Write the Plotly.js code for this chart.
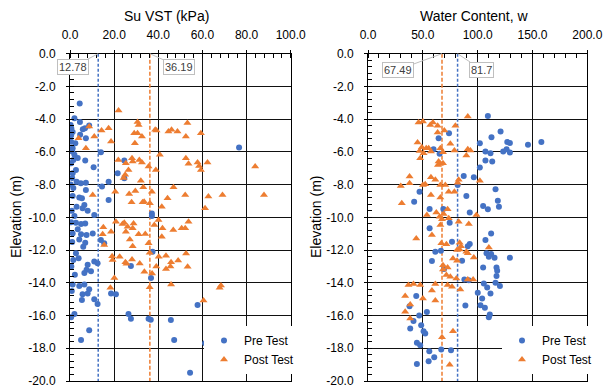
<!DOCTYPE html>
<html>
<head>
<meta charset="utf-8">
<script src="https://cdn.plot.ly/plotly-3.0.1.min.js"></script>
<style>html,body{margin:0;padding:0;background:#fff;}#chart{width:606px;height:387px;}</style>
</head>
<body>
<div id="chart"></div>
<script>
// ---- Left panel: Su VST (kPa) ----
const preSuL = [4.4,2.0,4.5,8.7,0.3,0.6,5.8,6.8,1.2,4.6,0.5,7.2,0.5,2.4,1.2,1.0,14.0,2.0,3.5,6.9,1.5,24.6,10.7,21.6,2.7,1.2,24.6,17.5,3.0,4.9,7.2,14.5,7.2,76.6,1.2,4.2,5.4,17.5,6.5,3.0,5.7,8.0,11.0,2.0,37.1,37.1,2.7,5.0,6.9,3.5,1.2,5.0,7.5,10.3,4.2,6.9,14.0,15.5,6.0,37.4,2.7,3.9,11.0,12.5,8.0,7.5,9.5,6.5,27.6,36.7,1.2,4.2,6.5,8.7,5.7,8.0,5.4,11.0,12.5,18.6,20.8,2.0,0.5,26.5,27.6,35.6,36.6,45.7,57.8,8.7,5.0,47.2,61.2,54.4,0.5,1.0,0.3,1.5,0.8,0.5,1.0,1.5,0.6,2.2,0.8];
const preElL = [-3.05,-3.94,-4.18,-4.38,-4.35,-4.55,-4.62,-4.55,-4.78,-4.95,-5.0,-5.16,-5.38,-5.47,-5.78,-5.98,-6.02,-6.18,-6.38,-6.53,-6.49,-6.53,-6.94,-7.31,-7.1,-7.3,-7.61,-7.82,-7.82,-7.92,-7.88,-8.12,-8.33,-5.73,-8.69,-8.78,-8.84,-8.94,-9.24,-9.35,-9.45,-9.59,-9.86,-9.92,-9.76,-9.92,-10.33,-10.41,-10.37,-10.73,-10.98,-11.04,-11.08,-10.98,-11.35,-11.55,-11.39,-11.59,-11.8,-12.1,-12.2,-12.5,-12.7,-12.8,-12.9,-13.2,-13.3,-13.4,-12.98,-13.7,-14.1,-14.2,-14.1,-14.4,-14.7,-14.65,-15.05,-15.0,-15.3,-14.65,-14.7,-15.9,-16.1,-15.9,-16.2,-16.2,-16.25,-16.27,-15.35,-16.9,-17.5,-17.5,-17.7,-19.5,-6.7,-7.6,-8.0,-8.2,-9.6,-10.3,-11.5,-12.6,-13.0,-13.5,-14.5];
const postSuL = [22.0,30.6,31.1,53.2,8.7,14.3,17.5,38.6,39.2,44.6,46.0,48.7,59.3,29.1,30.6,32.6,11.0,52.5,3.9,18.6,29.4,7.2,40.7,21.9,28.1,28.4,31.4,32.6,25.3,52.5,53.7,57.8,58.5,62.3,59.3,83.9,35.6,26.5,38.9,25.0,24.3,32.1,33.2,46.9,20.5,29.6,37.1,10.3,26.8,52.2,62.7,69.1,87.9,27.9,32.9,33.6,36.2,41.6,44.2,61.2,20.8,23.8,24.6,28.8,26.1,28.4,25.3,15.1,18.6,14.8,31.1,34.1,38.2,40.1,41.9,41.6,46.8,50.6,52.2,53.7,35.6,27.1,28.4,15.5,19.1,19.3,22.5,25.1,25.6,28.1,31.6,33.7,36.1,37.2,39.1,40.2,43.5,43.5,45.5,45.8,49.0,52.6,53.3,20.1,18.3,36.1,45.8,67.8,68.4,60.5];
const postElL = [-3.47,-4.18,-4.35,-4.24,-4.45,-4.69,-4.55,-4.65,-4.69,-4.76,-4.65,-4.76,-4.86,-4.86,-4.86,-5.06,-5.06,-5.06,-5.16,-5.37,-5.47,-5.78,-6.18,-6.49,-6.39,-6.59,-6.49,-6.65,-6.69,-6.39,-6.73,-6.65,-6.86,-6.65,-7.1,-6.9,-6.9,-7.1,-7.1,-7.4,-7.6,-7.76,-8.16,-8.16,-8.43,-8.39,-8.43,-8.63,-8.57,-8.63,-8.73,-8.63,-8.63,-9.08,-9.08,-9.04,-9.14,-9.35,-8.84,-9.45,-10.27,-10.41,-10.33,-10.37,-10.57,-10.67,-10.88,-10.61,-10.88,-11.04,-11.04,-11.02,-10.47,-10.16,-10.67,-11.18,-10.78,-10.67,-10.67,-10.27,-11.59,-11.35,-11.76,-11.69,-12.38,-12.61,-12.4,-12.74,-12.84,-12.58,-12.82,-13.33,-12.17,-13.43,-13.0,-12.4,-12.34,-13.15,-13.0,-12.74,-12.64,-12.21,-13.02,-13.7,-14.3,-14.27,-14.1,-14.3,-14.17,-15.08];
const meanSuPre = 12.78;
const meanSuPost = 36.19;

// ---- Right panel: Water content ----
const preWR = [109.3,73.9,64.4,120.9,112.6,102.0,127.0,129.4,145.9,158.1,126.4,123.3,129.4,107.1,111.7,59.8,65.3,107.1,113.3,102.0,87.3,96.5,81.8,116.3,47.0,89.7,42.1,118.4,119.4,105.0,109.3,92.8,56.2,68.7,74.5,56.2,112.3,107.1,76.6,92.8,91.0,61.4,66.5,108.1,112.3,110.2,115.4,129.4,58.3,85.8,69.3,105.0,117.2,117.8,117.2,87.9,91.9,116.3,105.6,108.7,120.3,100.1,111.7,104.1,44.0,88.8,102.6,106.6,37.9,53.7,46.7,111.1,110.2,41.5,48.5,38.5,50.7,52.2,44.6,47.6,55.9,66.8,75.7,60.4,55.3,44.6];
const preElR = [-3.8,-4.86,-5.16,-4.76,-5.1,-5.47,-5.4,-5.45,-5.57,-5.4,-5.84,-5.98,-6.04,-5.98,-6.08,-5.84,-6.12,-6.53,-6.59,-6.96,-7.47,-7.55,-8.02,-8.29,-8.43,-8.7,-9.04,-8.98,-9.35,-9.31,-9.51,-9.71,-9.49,-9.49,-10.33,-10.67,-10.98,-11.39,-11.49,-11.63,-11.76,-12.1,-12.04,-12.2,-12.24,-12.41,-12.47,-12.47,-12.67,-12.65,-13.15,-13.06,-13.06,-13.27,-13.59,-13.8,-13.84,-14.0,-14.04,-14.29,-14.2,-14.61,-14.65,-14.96,-14.8,-15.39,-15.37,-15.53,-15.43,-15.79,-16.0,-15.94,-16.1,-16.34,-16.59,-16.79,-16.96,-17.1,-17.67,-17.81,-18.18,-18.08,-18.12,-18.55,-18.79,-18.96];
const postWR = [91.0,46.1,50.1,56.8,59.2,63.5,79.7,63.5,69.6,45.2,75.1,49.1,53.1,47.0,55.3,57.4,66.0,68.4,78.8,91.0,93.4,50.7,47.6,89.7,64.4,66.0,68.4,63.8,37.9,57.4,61.4,37.9,29.9,50.1,52.2,66.0,70.5,82.7,81.8,102.0,73.6,78.8,57.4,66.0,30.8,53.7,62.3,65.3,67.5,69.0,72.6,73.6,98.9,82.7,91.9,66.0,58.3,44.0,66.9,71.5,83.6,84.8,110.2,81.2,83.6,89.7,91.0,96.5,77.5,81.2,68.4,72.6,68.4,71.5,75.1,80.6,91.0,95.9,36.9,41.5,47.6,61.4,72.6,76.6,84.2,33.9,38.5,50.1,58.3,61.4,33.9,38.5,67.5,77.5,74.5];
const postElR = [-3.84,-4.2,-4.14,-4.35,-4.2,-4.41,-4.41,-4.82,-4.69,-5.43,-5.51,-5.71,-5.78,-5.94,-5.78,-5.98,-5.78,-6.02,-5.92,-5.84,-5.92,-6.08,-6.39,-6.22,-6.59,-6.73,-6.69,-6.8,-7.51,-7.55,-7.71,-7.92,-8.08,-8.02,-7.98,-8.02,-8.02,-7.71,-7.88,-7.76,-8.43,-8.43,-8.63,-8.78,-9.14,-9.86,-9.71,-9.96,-10.12,-9.8,-9.51,-10.06,-9.86,-10.27,-10.41,-10.47,-11.08,-11.29,-11.59,-11.65,-11.55,-11.76,-11.84,-12.0,-11.96,-12.1,-12.2,-12.45,-12.51,-12.65,-12.92,-13.06,-13.18,-13.53,-13.63,-13.73,-13.8,-13.8,-14.14,-14.08,-14.14,-14.08,-14.14,-14.24,-14.41,-14.81,-15.32,-14.96,-14.47,-15.08,-15.77,-16.18,-17.32,-16.96,-19.0];
const meanWPost = 67.49;
const meanWPre = 81.7;

// ---- Tick labels ----
const xTickValsL = [0,20,40,60,80,100];
const xTickTextL = ['0.0','20.0','40.0','60.0','80.0','100.0'];
const xTickValsR = [0,50,100,150,200];
const xTickTextR = ['0.0','50.0','100.0','150.0','200.0'];
const yTickVals = [0,-2,-4,-6,-8,-10,-12,-14,-16,-18,-20];
const yTickText = ['0.0','-2.0','-4.0','-6.0','-8.0','-10.0','-12.0','-14.0','-16.0','-18.0','-20.0'];
const yRange = [-20, 0];

const BLUE = '#4472C4', ORANGE = '#ED7D31';
const FONT = 'Liberation Sans, Arial, sans-serif';
const W = 606, H = 387;

function lineTrace(xv, color, xa, ya, dash) {
  return {x:[xv, xv], y:[yRange[1], yRange[0]], xaxis:xa, yaxis:ya, mode:'lines',
    line:{color:color, width:1.5, dash:dash}, showlegend:false, hoverinfo:'skip'};
}

const traces = [
  lineTrace(meanSuPre, BLUE, 'x', 'y', '3px,2px'),
  lineTrace(meanSuPost, ORANGE, 'x', 'y', '4px,2px'),
  lineTrace(meanWPost, ORANGE, 'x2', 'y2', '4px,2px'),
  lineTrace(meanWPre, BLUE, 'x2', 'y2', '3px,2px'),
  {x:preSuL, y:preElL, xaxis:'x', yaxis:'y', mode:'markers', name:'Pre Test', legend:'legend',
   marker:{symbol:'circle', size:6, color:BLUE}},
  {x:postSuL, y:postElL, xaxis:'x', yaxis:'y', mode:'markers', name:'Post Test', legend:'legend',
   marker:{symbol:'triangle-up', size:7, color:ORANGE}},
  {x:preWR, y:preElR, xaxis:'x2', yaxis:'y2', mode:'markers', name:'Pre Test', legend:'legend2',
   marker:{symbol:'circle', size:6, color:BLUE}},
  {x:postWR, y:postElR, xaxis:'x2', yaxis:'y2', mode:'markers', name:'Post Test', legend:'legend2',
   marker:{symbol:'triangle-up', size:7, color:ORANGE}}
];

const yDom = [(H-381)/H, (H-53.7)/H];
function xAxis(dom, range, tv, tt, minorDt, yref) {
  return {domain:dom, range:range, side:'top', anchor:yref, tickmode:'array', tickvals:tv, ticktext:tt,
    showgrid:true, gridcolor:'#111', gridwidth:1, zeroline:false, showline:true, linecolor:'#000', linewidth:1, mirror:true,
    ticks:'outside', ticklen:3, tickcolor:'#000', ticklabelstandoff:6, ticklabeloverflow:'allow',
    minor:{ticks:'inside', ticklen:4, dtick:minorDt, tick0:0, tickcolor:'#000', showgrid:false},
    tickfont:{family:FONT, size:12, color:'#000'}, fixedrange:true};
}
function yAxis(xref) {
  return {domain:yDom, range:yRange, anchor:xref, tickmode:'array', tickvals:yTickVals, ticktext:yTickText,
    showgrid:true, gridcolor:'#111', gridwidth:1, zeroline:false, showline:true, linecolor:'#000', linewidth:1, mirror:true,
    ticks:'outside', ticklen:3, tickcolor:'#000', ticklabelstandoff:8, ticklabeloverflow:'allow',
    minor:{ticks:'inside', ticklen:4, dtick:0.4, tick0:0, tickcolor:'#000', showgrid:false},
    tickfont:{family:FONT, size:12, color:'#000'}, fixedrange:true};
}

function meanLabel(txt, xv, xa, ya, ax, ay) {
  return {text:txt, x:xv, y:0, xref:xa, yref:ya, showarrow:true, arrowhead:0, arrowwidth:1, arrowcolor:'#bfbfbf',
    ax:ax, ay:ay, bordercolor:'#bfbfbf', borderwidth:1, borderpad:1, bgcolor:'#fff',
    font:{family:FONT, size:11, color:'#404040'}};
}

const layout = {
  width:W, height:H, margin:{l:0, r:0, t:0, b:0}, paper_bgcolor:'#fff', plot_bgcolor:'#fff',
  font:{family:FONT, size:12, color:'#000'},
  xaxis: xAxis([70/W, 290.7/W], [0,100], xTickValsL, xTickTextL, 4, 'y'),
  yaxis: yAxis('x'),
  xaxis2: xAxis([368/W, 587.3/W], [0,200], xTickValsR, xTickTextR, 10, 'y2'),
  yaxis2: yAxis('x2'),
  legend:{x:204/W, y:(H-326)/H, xanchor:'left', yanchor:'top', bgcolor:'#fff', borderwidth:0,
    font:{family:FONT, size:12, color:'#000'}, itemwidth:30, tracegroupgap:0},
  legend2:{x:502/W, y:(H-326)/H, xanchor:'left', yanchor:'top', bgcolor:'#fff', borderwidth:0,
    font:{family:FONT, size:12, color:'#000'}, itemwidth:30, tracegroupgap:0},
  annotations:[
    {text:'Su VST (kPa)', x:166/W, y:(H-16)/H, xref:'paper', yref:'paper', showarrow:false,
     xanchor:'center', yanchor:'middle', font:{family:FONT, size:14, color:'#000'}},
    {text:'Water Content, w', x:474/W, y:(H-16)/H, xref:'paper', yref:'paper', showarrow:false,
     xanchor:'center', yanchor:'middle', font:{family:FONT, size:14, color:'#000'}},
    {text:'Elevation (m)', x:16/W, y:(H-217)/H, xref:'paper', yref:'paper', showarrow:false, textangle:-90,
     xanchor:'center', yanchor:'middle', font:{family:FONT, size:14, color:'#000'}},
    {text:'Elevation (m)', x:316/W, y:(H-217)/H, xref:'paper', yref:'paper', showarrow:false, textangle:-90,
     xanchor:'center', yanchor:'middle', font:{family:FONT, size:14, color:'#000'}},
    meanLabel(String(meanSuPre), meanSuPre, 'x', 'y', -25, 13),
    meanLabel(String(meanSuPost), meanSuPost, 'x', 'y', 29, 13),
    meanLabel(String(meanWPost), meanWPost, 'x2', 'y2', -44, 16),
    meanLabel(String(meanWPre), meanWPre, 'x2', 'y2', 24, 16)
  ]
};

Plotly.newPlot('chart', traces, layout, {staticPlot:true, displayModeBar:false});
</script>
</body>
</html>
